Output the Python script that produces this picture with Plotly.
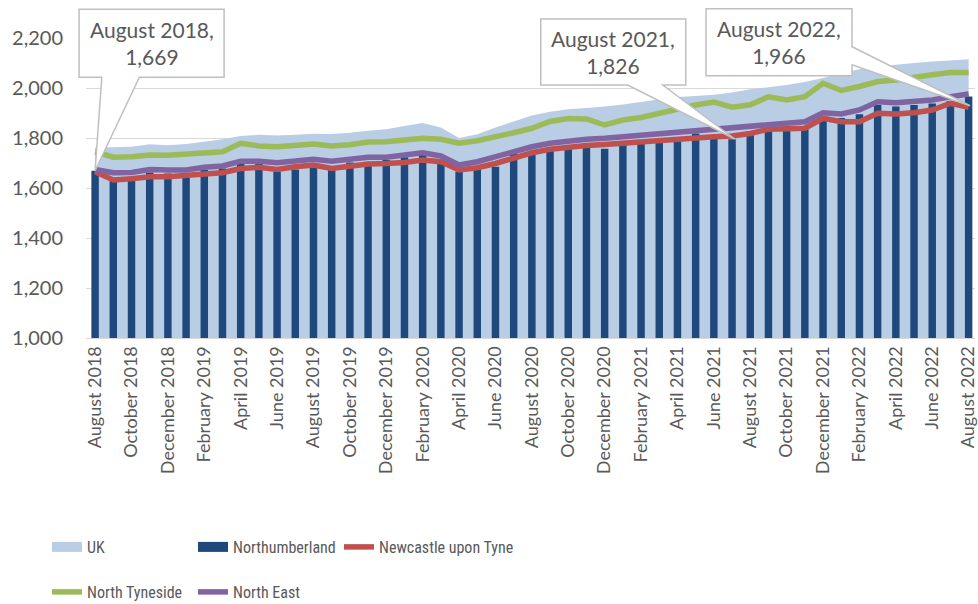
import pandas as pd
import plotly.graph_objects as go

# Monthly categories, August 2018 to August 2022
months = list(pd.date_range("2018-08-01", "2022-08-01", freq="MS").strftime("%B %Y"))
tick_months = months[::2]

uk = [1762, 1763, 1765, 1775, 1771, 1776, 1785, 1795, 1808, 1813,
      1810, 1813, 1817, 1816, 1821, 1829, 1835, 1848, 1860, 1842,
      1800, 1815, 1842, 1866, 1890, 1905, 1915, 1920, 1926, 1934,
      1944, 1955, 1964, 1968, 1973, 1982, 1995, 2003, 2012, 2024,
      2040, 2060, 2075, 2085, 2093, 2100, 2106, 2110, 2115]

northumberland = [1669, 1640, 1645, 1662, 1658, 1658, 1672, 1678, 1701, 1697,
                  1665, 1674, 1699, 1672, 1702, 1688, 1712, 1723, 1732, 1698,
                  1665, 1674, 1685, 1739, 1735, 1750, 1758, 1763, 1757, 1773,
                  1777, 1787, 1794, 1818, 1799, 1795, 1826, 1832, 1834, 1842,
                  1883, 1880, 1895, 1932, 1926, 1932, 1938, 1948, 1966]

newcastle = [1665, 1632, 1637, 1645, 1645, 1648, 1656, 1661, 1678, 1683,
             1674, 1685, 1692, 1678, 1688, 1696, 1698, 1702, 1712, 1705,
             1672, 1681, 1698, 1719, 1741, 1755, 1765, 1770, 1774, 1779,
             1784, 1790, 1799, 1801, 1805, 1808, 1818, 1835, 1837, 1839,
             1879, 1865, 1865, 1899, 1896, 1901, 1912, 1939, 1923]

north_tyneside = [1745, 1723, 1725, 1732, 1731, 1735, 1739, 1745, 1779, 1768,
                  1765, 1771, 1776, 1768, 1773, 1784, 1785, 1792, 1799, 1795,
                  1779, 1789, 1803, 1821, 1839, 1866, 1878, 1876, 1852, 1872,
                  1882, 1900, 1919, 1932, 1944, 1923, 1933, 1965, 1952, 1965,
                  2019, 1990, 2006, 2026, 2032, 2044, 2053, 2062, 2062]

north_east = [1674, 1661, 1662, 1674, 1672, 1672, 1683, 1688, 1707, 1707,
              1701, 1707, 1715, 1707, 1715, 1723, 1723, 1732, 1741, 1728,
              1692, 1705, 1725, 1745, 1765, 1779, 1789, 1795, 1799, 1805,
              1810, 1819, 1825, 1829, 1835, 1839, 1846, 1856, 1859, 1865,
              1901, 1896, 1912, 1945, 1941, 1945, 1952, 1965, 1976]

# Callouts on the Northumberland series
callout_months = ["August 2018", "August 2021", "August 2022"]

C_UK = "#B9CDE5"
C_NLD = "#1F497D"
C_NCL = "#C0504D"
C_NT = "#9BBB59"
C_NE = "#8064A2"
TXT = "#595959"
FONT = "Lato, 'Open Sans', sans-serif"
LEG_FONT = "'Liberation Sans Narrow', 'Roboto Condensed', Lato, sans-serif"

Y_MIN, Y_MAX = 1000, 2200
X_RANGE = [-0.5, 48.35]

fig = go.Figure()

# UK area on the base subplot so the bars and lines (overlay subplot) sit on top
fig.add_trace(go.Scatter(x=months, y=uk, mode="none", fill="tozeroy",
                         fillcolor=C_UK, name="UK", showlegend=False))
fig.add_trace(go.Bar(x=months, y=northumberland, marker_color=C_NLD,
                     marker_line_width=0, name="Northumberland", showlegend=False,
                     xaxis="x2", yaxis="y2"))
for name, vals, col in [("Newcastle upon Tyne", newcastle, C_NCL),
                        ("North Tyneside", north_tyneside, C_NT),
                        ("North East", north_east, C_NE)]:
    fig.add_trace(go.Scatter(x=months, y=vals, mode="lines", name=name,
                             line=dict(color=col, width=5.5), showlegend=False,
                             xaxis="x2", yaxis="y2"))

# Legend entries: one small legend per slot, two rows
legend_items = [("UK", C_UK, 12), ("Northumberland", C_NLD, 12),
                ("Newcastle upon Tyne", C_NCL, 5.5),
                ("North Tyneside", C_NT, 5.5), ("North East", C_NE, 5.5)]
legend_slots = [(47, 547), (193, 547), (339, 547), (47, 592), (193, 592)]
legend_layout = {}
for k, ((name, col, w), (lx, ly)) in enumerate(zip(legend_items, legend_slots)):
    key = "legend" if k == 0 else f"legend{k + 1}"
    fig.add_trace(go.Scatter(x=[None], y=[None], mode="lines", name=name,
                             line=dict(color=col, width=w), legend=key))
    legend_layout[key] = dict(
        orientation="h", xref="container", yref="container",
        x=lx / 978, y=1 - ly / 604, xanchor="left", yanchor="middle",
        font=dict(family=LEG_FONT, size=16, color=TXT),
        bgcolor="rgba(0,0,0,0)")


def xfrac(month):
    i = months.index(month)
    return (i - X_RANGE[0]) / (X_RANGE[1] - X_RANGE[0])


def yfrac(v):
    return (v - Y_MIN) / (Y_MAX - Y_MIN)


# Callout geometry in pixels relative to the labelled point: box path and text offset
callout_paths = [
    "M -16,161.5 L 129,161.5 L 129,93.5 L 44.3,93.5 L 0,0 L 6.7,93.5 L -16,93.5 Z",
    "M -209.5,112.5 L -64.5,112.5 L -64.5,46.5 L -87.5,46.5 L -15.5,-7.5 "
    "L -122.5,46.5 L -209.5,46.5 Z",
    "M -262.6,87.8 L -116.6,87.8 L -116.6,49.8 L 1.4,-9.2 L -116.6,31.8 "
    "L -116.6,20.8 L -262.6,20.8 Z",
]
callout_text_shift = [(56.5, 127.5), (-137, 79.5), (-189.6, 54.3)]

for m, path, (dx, dy) in zip(callout_months, callout_paths, callout_text_shift):
    v = northumberland[months.index(m)]
    fig.add_shape(type="path", path=path, xref="paper", yref="paper",
                  xsizemode="pixel", ysizemode="pixel",
                  xanchor=xfrac(m), yanchor=yfrac(v),
                  fillcolor="white", line=dict(color="#BFBFBF", width=1.5),
                  layer="above")
    fig.add_annotation(x=xfrac(m), y=yfrac(v), xref="paper", yref="paper",
                       xanchor="center", yanchor="middle",
                       xshift=dx, yshift=dy, showarrow=False,
                       text=f"{m},<br>{v:,}", align="center",
                       font=dict(family=FONT, size=21, color=TXT))

xaxis_common = dict(type="category", categoryorder="array", categoryarray=months,
                    range=X_RANGE, fixedrange=True)
yaxis_common = dict(range=[Y_MIN, Y_MAX], fixedrange=True)

fig.update_layout(
    width=978, height=604,
    margin=dict(l=86, r=0, t=38, b=266),
    paper_bgcolor="white", plot_bgcolor="white",
    bargap=0.59,
    font=dict(family=FONT, color=TXT),
    xaxis=dict(**xaxis_common, tickmode="array", tickvals=tick_months,
               ticktext=tick_months, tickangle=-90, ticks="",
               tickfont=dict(family=FONT, size=18, color=TXT),
               showgrid=False, showline=True, linecolor="#D9D9D9", linewidth=1),
    yaxis=dict(**yaxis_common, dtick=200, tickformat=",", ticks="",
               tickfont=dict(family=FONT, size=20, color=TXT),
               ticklabelstandoff=22,
               gridcolor="#D9D9D9", gridwidth=1, zeroline=False, showline=False),
    xaxis2=dict(**xaxis_common, overlaying="x", visible=False),
    yaxis2=dict(**yaxis_common, overlaying="y", visible=False),
    **legend_layout,
)

fig.write_html("out.html")
